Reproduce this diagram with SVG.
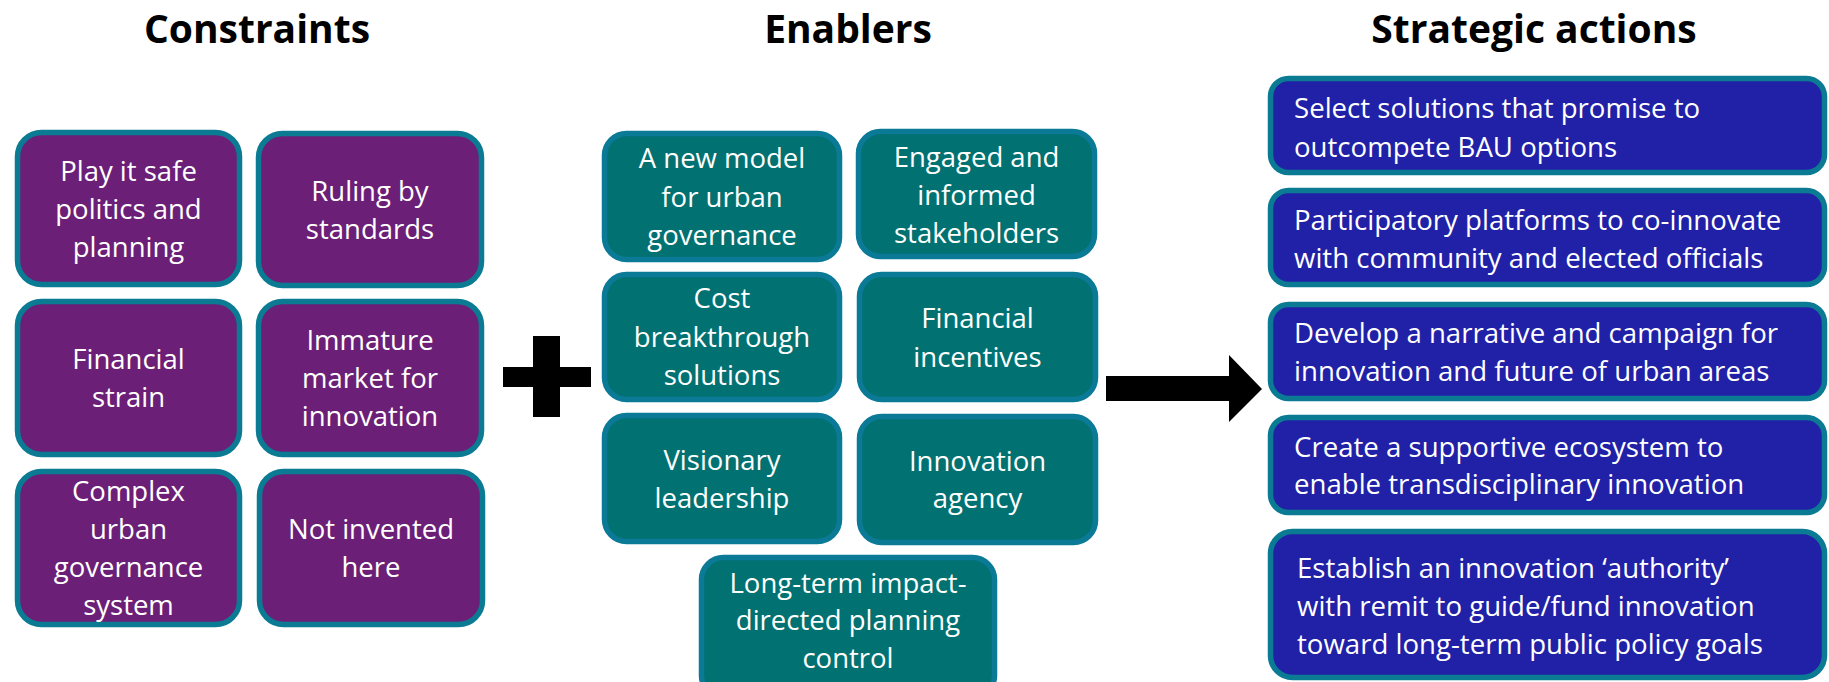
<svg xmlns="http://www.w3.org/2000/svg" width="1829" height="682" viewBox="0 0 1829 682">
<style>
.title{font-family:"Open Sans","Liberation Sans",sans-serif;font-weight:700;font-size:39px;fill:#000;text-anchor:middle}
.t{font-family:"Open Sans","Liberation Sans",sans-serif;font-size:27.5px;fill:#fff;text-anchor:middle}
.s{font-family:"Open Sans","Liberation Sans",sans-serif;font-size:27.6px;fill:#fff}
.con{fill:#6B1F77;stroke:#0A7B93;stroke-width:5.5}
.ena{fill:#027172;stroke:#0A7A96;stroke-width:5.5}
.act{fill:#2121A7;stroke:#0A7B93;stroke-width:5.5}
.sym{fill:#000}
</style>
<rect width="1829" height="682" fill="#fff"/>
<g id="titles">
<text class="title" x="257" y="43">Constraints</text>
<text class="title" x="848" y="43">Enablers</text>
<text class="title" x="1534" y="43">Strategic actions</text>
</g>
<g id="c1"><rect class="con" x="17.5" y="132.5" width="222" height="152" rx="24"/>
<text class="t" x="128.5" y="181">Play it safe</text><text class="t" x="128.5" y="219">politics and</text><text class="t" x="128.5" y="257">planning</text></g>
<g id="c2"><rect class="con" x="258.5" y="133.5" width="223" height="152" rx="24"/>
<text class="t" x="370" y="201">Ruling by</text><text class="t" x="370" y="239">standards</text></g>
<g id="c3"><rect class="con" x="17.5" y="301.5" width="222" height="153" rx="24"/>
<text class="t" x="128.5" y="369">Financial</text><text class="t" x="128.5" y="407">strain</text></g>
<g id="c4"><rect class="con" x="258.5" y="301.5" width="223" height="153" rx="24"/>
<text class="t" x="370" y="350">Immature</text><text class="t" x="370" y="388">market for</text><text class="t" x="370" y="426">innovation</text></g>
<g id="c5"><rect class="con" x="17.5" y="471.5" width="222" height="153" rx="24"/>
<text class="t" x="128.5" y="501">Complex</text><text class="t" x="128.5" y="539">urban</text><text class="t" x="128.5" y="577">governance</text><text class="t" x="128.5" y="615">system</text></g>
<g id="c6"><rect class="con" x="259.5" y="471.5" width="223" height="153" rx="24"/>
<text class="t" x="371" y="539">Not invented</text><text class="t" x="371" y="577">here</text></g>
<g id="e1"><rect class="ena" x="604.5" y="133.5" width="235" height="126" rx="22"/>
<text class="t" x="722" y="168">A new model</text><text class="t" x="722" y="207">for urban</text><text class="t" x="722" y="245">governance</text></g>
<g id="e2"><rect class="ena" x="858.5" y="131.5" width="236" height="125" rx="22"/>
<text class="t" x="976.5" y="167">Engaged and</text><text class="t" x="976.5" y="205">informed</text><text class="t" x="976.5" y="243">stakeholders</text></g>
<g id="e3"><rect class="ena" x="604.5" y="274.5" width="235" height="125" rx="22"/>
<text class="t" x="722" y="308">Cost</text><text class="t" x="722" y="347">breakthrough</text><text class="t" x="722" y="385">solutions</text></g>
<g id="e4"><rect class="ena" x="859.5" y="274.5" width="236" height="125" rx="22"/>
<text class="t" x="977.5" y="328">Financial</text><text class="t" x="977.5" y="367">incentives</text></g>
<g id="e5"><rect class="ena" x="604.5" y="415.5" width="235" height="126" rx="22"/>
<text class="t" x="722" y="470">Visionary</text><text class="t" x="722" y="508">leadership</text></g>
<g id="e6"><rect class="ena" x="859.5" y="416.5" width="236" height="126" rx="22"/>
<text class="t" x="977.5" y="471">Innovation</text><text class="t" x="977.5" y="508">agency</text></g>
<g id="e7"><rect class="ena" x="701.5" y="557.5" width="293" height="140" rx="22"/>
<text class="t" x="848" y="593">Long-term impact-</text><text class="t" x="848" y="630">directed planning</text><text class="t" x="848" y="668">control</text></g>
<g id="a1"><rect class="act" x="1270.5" y="78.5" width="554" height="94" rx="18"/>
<text class="s" x="1294" y="118">Select solutions that promise to</text><text class="s" x="1294" y="157">outcompete BAU options</text></g>
<g id="a2"><rect class="act" x="1270.5" y="190.5" width="554" height="94" rx="18"/>
<text class="s" x="1294" y="230">Participatory platforms to co-innovate</text><text class="s" x="1294" y="268">with community and elected officials</text></g>
<g id="a3"><rect class="act" x="1270.5" y="304.5" width="554" height="94" rx="18"/>
<text class="s" x="1294" y="343">Develop a narrative and campaign for</text><text class="s" x="1294" y="381">innovation and future of urban areas</text></g>
<g id="a4"><rect class="act" x="1270.5" y="417.5" width="554" height="95" rx="18"/>
<text class="s" x="1294" y="457">Create a supportive ecosystem to</text><text class="s" x="1294" y="494">enable transdisciplinary innovation</text></g>
<g id="a5"><rect class="act" x="1270.5" y="531.5" width="554" height="146" rx="22"/>
<text class="s" x="1297" y="578">Establish an innovation ‘authority’</text><text class="s" x="1297" y="616">with remit to guide/fund innovation</text><text class="s" x="1297" y="654">toward long-term public policy goals</text></g>
<g id="connectors">
<polygon class="sym" points="533,336 560,336 560,367 591,367 591,387 560,387 560,417 533,417 533,387 503,387 503,367 533,367"/>
<polygon class="sym" points="1106,376 1229,376 1229,355 1262,389 1229,422 1229,401 1106,401"/>
</g>
</svg>
